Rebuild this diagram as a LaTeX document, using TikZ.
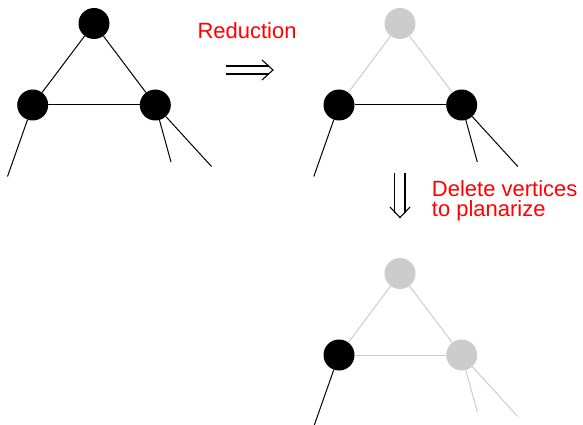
\documentclass[tikz,border=0pt]{standalone}
\usepackage{fontspec}
\setmainfont{Liberation Sans}
\begin{document}
\begin{tikzpicture}[x=1pt,y=-1pt,
  vtx/.style={circle,inner sep=0pt,minimum size=31pt,fill=black},
  gvtx/.style={circle,inner sep=0pt,minimum size=31pt,fill=lightgrey},
  edge/.style={line width=1pt,draw=black},
  gedge/.style={line width=1pt,draw=lightgrey},
  bigarrow/.style={line width=1.1pt,draw=black},
  note/.style={text=red,font=\fontsize{22}{20.5}\selectfont,inner sep=0pt,align=left}]
\definecolor{lightgrey}{RGB}{204,204,204}
\clip (0,0) rectangle (583,425);
\useasboundingbox (0,0) rectangle (583,425);

% first graph: full triangle with pendant edges
\node[vtx] (t1) at (94,23.5) {};
\node[vtx] (l1) at (32.7,105) {};
\node[vtx] (r1) at (155.3,105) {};
\coordinate (a1) at (7.5,176.5);
\coordinate (b1) at (171,162);
\coordinate (c1) at (211.5,166.5);
\draw[edge] (t1) -- (l1);
\draw[edge] (t1) -- (r1);
\draw[edge] (l1) -- (r1);
\draw[edge] (l1) -- (a1);
\draw[edge] (r1) -- (b1);
\draw[edge] (r1) -- (c1);

% reduction step
\node[note,anchor=base west] (red) at (197.3,39) {Reduction};
\coordinate (ra1) at (226,66);
\coordinate (ra2) at (269,66);
\coordinate (rb1) at (226,74);
\coordinate (rb2) at (269,74);
\coordinate (rc1) at (262,60);
\coordinate (rc2) at (273,70);
\coordinate (rc3) at (262,80);
\draw[bigarrow] (ra1) -- (ra2);
\draw[bigarrow] (rb1) -- (rb2);
\draw[bigarrow,line join=miter] (rc1) -- (rc2) -- (rc3);

% second graph: top vertex reduced away
\node[gvtx] (t2) at (400,23.5) {};
\node[vtx] (l2) at (339,105) {};
\node[vtx] (r2) at (461.7,105) {};
\coordinate (a2) at (313.8,176.5);
\coordinate (b2) at (477.3,162);
\coordinate (c2) at (517.8,166.5);
\draw[gedge] (t2) -- (l2);
\draw[gedge] (t2) -- (r2);
\draw[edge] (l2) -- (r2);
\draw[edge] (l2) -- (a2);
\draw[edge] (r2) -- (b2);
\draw[edge] (r2) -- (c2);

% deletion step
\coordinate (da1) at (394.5,173);
\coordinate (da2) at (394.5,213);
\coordinate (db1) at (405,173);
\coordinate (db2) at (405,213);
\coordinate (dc1) at (390,207);
\coordinate (dc2) at (400,217.5);
\coordinate (dc3) at (410,207);
\draw[bigarrow] (da1) -- (da2);
\draw[bigarrow] (db1) -- (db2);
\draw[bigarrow,line join=miter] (dc1) -- (dc2) -- (dc3);
\node[note,anchor=base west] (del) at (431.7,216.7) {Delete vertices\\to planarize};

% third graph: right vertex deleted as well
\node[gvtx] (t3) at (400,273.5) {};
\node[vtx] (l3) at (339,355) {};
\node[gvtx] (r3) at (461.7,355) {};
\coordinate (a3) at (313.8,426.5);
\coordinate (b3) at (477.3,412);
\coordinate (c3) at (517.8,416.5);
\draw[gedge] (t3) -- (l3);
\draw[gedge] (t3) -- (r3);
\draw[gedge] (l3) -- (r3);
\draw[edge] (l3) -- (a3);
\draw[gedge] (r3) -- (b3);
\draw[gedge] (r3) -- (c3);
\end{tikzpicture}
\end{document}
